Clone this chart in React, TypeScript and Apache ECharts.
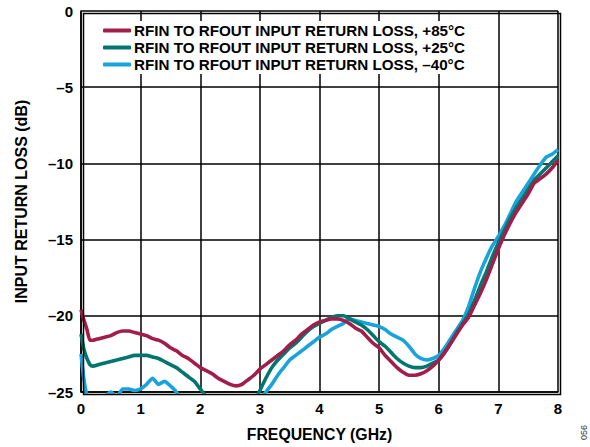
import React, { useEffect, useRef } from "react";
import * as echarts from "echarts";

const freqGHz = [
  0, 0.05, 0.1, 0.15, 0.2, 0.3, 0.4, 0.5, 0.6, 0.7,
  0.8, 0.9, 1.0, 1.1, 1.2, 1.3, 1.4, 1.5, 1.6, 1.7,
  1.8, 1.9, 2.0, 2.1, 2.2, 2.3, 2.4, 2.5, 2.6, 2.7,
  2.8, 2.9, 3.0, 3.1, 3.2, 3.3, 3.4, 3.5, 3.6, 3.7,
  3.8, 3.9, 4.0, 4.1, 4.2, 4.3, 4.4, 4.5, 4.6, 4.7,
  4.8, 4.9, 5.0, 5.1, 5.2, 5.3, 5.4, 5.5, 5.6, 5.7,
  5.8, 5.9, 6.0, 6.1, 6.2, 6.3, 6.4, 6.5, 6.6, 6.7,
  6.8, 6.9, 7.0, 7.1, 7.2, 7.3, 7.4, 7.5, 7.6, 7.7,
  7.8, 7.9, 8.0,
];

const loss85 = [
  -19.6, -20.3, -20.9, -21.6, -21.6, -21.5, -21.4, -21.3, -21.1, -21.0,
  -21.0, -21.1, -21.2, -21.3, -21.5, -21.6, -21.8, -22.1, -22.3, -22.6,
  -22.8, -23.1, -23.4, -23.6, -23.8, -24.1, -24.3, -24.5, -24.6, -24.5,
  -24.2, -23.9, -23.5, -23.2, -22.9, -22.6, -22.3, -21.9, -21.6, -21.2,
  -20.9, -20.6, -20.4, -20.3, -20.2, -20.2, -20.3, -20.5, -20.8, -21.0,
  -21.4, -21.8, -22.1, -22.6, -23.0, -23.4, -23.7, -23.9, -23.9, -23.8,
  -23.6, -23.3, -22.9, -22.4, -21.8, -21.2, -20.6, -20.1, -19.3, -18.5,
  -17.6, -16.6, -15.6, -14.7, -13.9, -13.2, -12.6, -12.0, -11.3, -11.0,
  -10.7, -10.3, -9.8,
];

const loss25 = [
  -21.2, -22.2, -22.8, -23.2, -23.3, -23.2, -23.1, -23.0, -22.9, -22.8,
  -22.7, -22.6, -22.6, -22.6, -22.7, -22.8, -23.0, -23.2, -23.4, -23.7,
  -24.0, -24.3, -24.8, -25.3, -25.8, -26.1, -26.4, -26.6, -26.6, -26.5,
  -26.2, -25.7, -24.9, -24.1, -23.4, -22.9, -22.5, -22.1, -21.8, -21.4,
  -21.0, -20.7, -20.5, -20.3, -20.1, -20.0, -20.0, -20.2, -20.4, -20.6,
  -20.9, -21.3, -21.7, -22.0, -22.4, -22.8, -23.1, -23.3, -23.4, -23.4,
  -23.3, -23.1, -22.9, -22.4, -21.8, -21.1, -20.5, -19.9, -19.0, -18.0,
  -17.1, -16.1, -15.2, -14.4, -13.6, -12.9, -12.3, -11.7, -11.1, -10.7,
  -10.3, -9.9, -9.5,
];

const lossM40 = [
  -22.5, -24.2, -25.2, -25.4, -25.5, -25.6, -25.3, -25.0, -25.3, -24.8,
  -24.8, -24.9, -24.8, -24.5, -24.1, -24.5, -24.3, -24.6, -25.0, -25.6,
  -26.0, -26.3, -26.5, -26.7, -26.8, -26.9, -27.0, -27.0, -26.9, -26.7,
  -26.3, -25.9, -25.5, -25.0, -24.5, -23.9, -23.4, -22.9, -22.6, -22.3,
  -22.0, -21.7, -21.4, -21.2, -20.9, -20.7, -20.5, -20.2, -20.3, -20.4,
  -20.5, -20.6, -20.7, -20.9, -21.2, -21.4, -21.6, -22.0, -22.5, -22.8,
  -22.9, -22.8, -22.6, -22.1, -21.5, -20.9, -20.3, -19.4, -18.2, -17.1,
  -16.2, -15.4, -14.8, -14.1, -13.3, -12.5, -11.9, -11.3, -10.7, -10.1,
  -9.6, -9.4, -9.1,
];

const seriesNames = [
  "RFIN TO RFOUT INPUT RETURN LOSS, +85°C",
  "RFIN TO RFOUT INPUT RETURN LOSS, +25°C",
  "RFIN TO RFOUT INPUT RETURN LOSS, \u201340°C",
];
const seriesColors = ["#A11D4A", "#00766F", "#1AA3DA"];
const seriesValues = [loss85, loss25, lossM40];

const FONT = "'Liberation Sans', Arial, Helvetica, sans-serif";

export default function App() {
  const ref = useRef<HTMLDivElement>(null);
  useEffect(() => {
    if (!ref.current) return;
    const chart = echarts.init(ref.current, null, { renderer: "svg" });
    chart.setOption({
      animation: false,
      backgroundColor: "#ffffff",
      grid: { left: 81, right: 32, top: 11, bottom: 55, containLabel: false },
      legend: {
        orient: "vertical",
        left: 99,
        top: 21,
        itemWidth: 28,
        itemHeight: 4,
        itemGap: 2,
        icon: "roundRect",
        backgroundColor: "#ffffff",
        padding: [2, 4, 2, 4],
        textStyle: { fontFamily: FONT, fontWeight: "bold", fontSize: 15.2, color: "#000", padding: [0, 0, 0, -2] },
        data: seriesNames,
      },
      xAxis: {
        type: "value",
        min: 0,
        max: 8,
        interval: 1,
        name: "FREQUENCY (GHz)",
        nameLocation: "middle",
        nameGap: 34,
        nameTextStyle: { fontFamily: FONT, fontWeight: "bold", fontSize: 15.8, color: "#000" },
        axisLine: { show: true, onZero: false, lineStyle: { color: "#000", width: 1.5 } },
        axisTick: { show: false },
        axisLabel: { fontFamily: FONT, fontWeight: "bold", fontSize: 15, color: "#000", margin: 9 },
        splitLine: { show: true, lineStyle: { color: "#000", width: 1.5 } },
      },
      yAxis: {
        type: "value",
        min: -25,
        max: 0,
        interval: 5,
        name: "INPUT RETURN LOSS (dB)",
        nameLocation: "middle",
        nameGap: 52,
        nameTextStyle: { fontFamily: FONT, fontWeight: "bold", fontSize: 16, color: "#000" },
        axisLine: { show: true, onZero: false, lineStyle: { color: "#000", width: 1.5 } },
        axisTick: { show: false },
        axisLabel: {
          fontFamily: FONT,
          fontWeight: "bold",
          fontSize: 15,
          color: "#000",
          margin: 8,
          formatter: (v: number) => String(v).replace("-", "\u2013"),
        },
        splitLine: { show: true, lineStyle: { color: "#000", width: 1.5 } },
      },
      graphic: [
        {
          type: "rect",
          left: 81,
          top: 11,
          shape: { width: 477, height: 381 },
          style: { fill: "none", stroke: "#000", lineWidth: 1.5 },
          silent: true,
          z: 10,
        },
        {
          type: "text",
          x: 579,
          y: 440,
          rotation: Math.PI / 2,
          style: { text: "056", fontFamily: FONT, fontSize: 9, fill: "#333" },
        },
      ],
      series: seriesValues.map((vals, i) => ({
        name: seriesNames[i],
        type: "line",
        data: freqGHz.map((f, j) => [f, vals[j]]),
        showSymbol: false,
        symbol: "none",
        clip: true,
        smooth: 0.2,
        lineStyle: { color: seriesColors[i], width: 3.6 },
        itemStyle: { color: seriesColors[i] },
        z: 5 - i,
      })),
    });
    return () => chart.dispose();
  }, []);
  return <div ref={ref} style={{ width: 590, height: 447, position: "absolute", left: 0, top: 0 }} />;
}
